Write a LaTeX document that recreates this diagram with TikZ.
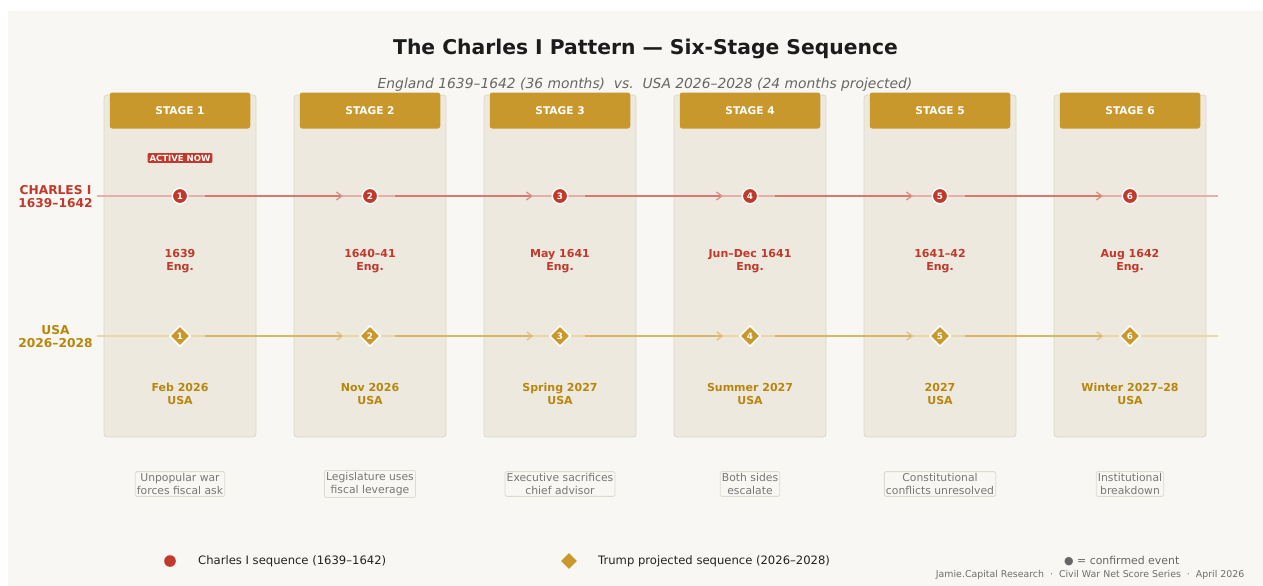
\documentclass[tikz,border=0pt]{standalone}
\usepackage{fontspec}
\setmainfont{DejaVu Sans}
\usetikzlibrary{shapes.geometric,arrows.meta}
\definecolor{pagebg}{HTML}{F8F7F3}
\definecolor{colfill}{HTML}{EDE9DF}
\definecolor{coldraw}{HTML}{DDD6C8}
\definecolor{gold}{HTML}{C8982C}
\definecolor{goldtext}{HTML}{B8860B}
\definecolor{redc}{HTML}{C0392B}
\definecolor{redlight}{HTML}{E4B0A8}
\definecolor{redseg}{HTML}{D67A70}
\definecolor{redtip}{HTML}{DD9088}
\definecolor{goldlight}{HTML}{EAD6A8}
\definecolor{goldseg}{HTML}{DAB567}
\definecolor{goldtip}{HTML}{E0C07E}
\definecolor{titlec}{HTML}{1C1C1C}
\definecolor{subc}{HTML}{666666}
\definecolor{descc}{HTML}{777777}
\definecolor{descdraw}{HTML}{DEDAD2}
\definecolor{legc}{HTML}{222222}
\definecolor{footc}{HTML}{6E6E6E}
\begin{document}
\begin{tikzpicture}[x=1pt,y=-1pt,
  colbox/.style={draw=coldraw, fill=colfill, line width=0.8pt, rounded corners=3pt},
  hdrbox/.style={fill=gold, rounded corners=2.5pt, minimum width=140.5pt, minimum height=36pt, inner sep=0pt, text=white, font=\bfseries\fontsize{10.6}{12}\selectfont},
  cnode/.style={circle, fill=redc, draw=white, line width=1.5pt, minimum size=15.5pt, inner sep=0pt, text=white, font=\bfseries\fontsize{8.8}{9}\selectfont},
  dnode/.style={diamond, aspect=1, fill=gold, draw=white, line width=1.5pt, minimum width=21pt, minimum height=21pt, inner sep=0pt, text=white, font=\bfseries\fontsize{8.8}{9}\selectfont},
  redbase/.style={draw=redlight, line width=2pt},
  goldbase/.style={draw=goldlight, line width=2pt},
  redarr/.style={draw=redseg, line width=2pt, shorten <=16.5pt, shorten >=18.5pt, -{Straight Barb[length=5.5pt,width=8pt,line width=1.3pt,color=redtip]}},
  goldarr/.style={draw=goldseg, line width=2pt, shorten <=13.3pt, shorten >=15.3pt, -{Straight Barb[length=5.5pt,width=8pt,line width=1.3pt,color=goldtip]}},
  datered/.style={text=redc, font=\bfseries\fontsize{11}{13}\selectfont, align=center},
  dategold/.style={text=goldtext, font=\bfseries\fontsize{11}{13}\selectfont, align=center},
  descbox/.style={draw=descdraw, fill=pagebg, line width=0.8pt, rounded corners=1.5pt, text=descc, font=\fontsize{10.8}{13.2}\selectfont, align=center, inner sep=1.6pt}
]
\useasboundingbox (0,0) rectangle (1263,586);
\fill[white] (0,0) rectangle (1263,586);
\fill[pagebg] (8,11) rectangle (1263,586);

% title
\node[text=titlec, font=\bfseries\fontsize{20.3}{24}\selectfont] (title) at (645.5,49) {The Charles I Pattern — Six-Stage Sequence};
\node[text=subc, font=\itshape\fontsize{13.85}{16}\selectfont] (subtitle) at (645,85) {England 1639–1642 (36 months)\ \ vs.\ \ USA 2026–2028 (24 months projected)};

% columns
\foreach \i in {1,...,6}{
  \pgfmathsetmacro{\cx}{180+190*(\i-1)}
  \draw[colbox] (\cx-76,95) rectangle (\cx+76,437);
  \node[hdrbox] (hdr\i) at (\cx,110.5) {STAGE \i};
}

% base lines
\coordinate (rl) at (97,196);
\coordinate (rr) at (1218,196);
\coordinate (gl) at (97,336);
\coordinate (gr) at (1218,336);
\draw[redbase] (rl) -- (rr);
\draw[goldbase] (gl) -- (gr);

% stage nodes and texts
\foreach \i/\cd/\ud/\ds in {
  1/{1639\\Eng.}/{Feb 2026\\USA}/{Unpopular war\\forces fiscal ask},
  2/{1640–41\\Eng.}/{Nov 2026\\USA}/{Legislature uses\\fiscal leverage},
  3/{May 1641\\Eng.}/{Spring 2027\\USA}/{Executive sacrifices\\chief advisor},
  4/{Jun–Dec 1641\\Eng.}/{Summer 2027\\USA}/{Both sides\\escalate},
  5/{1641–42\\Eng.}/{2027\\USA}/{Constitutional\\conflicts unresolved},
  6/{Aug 1642\\Eng.}/{Winter 2027–28\\USA}/{Institutional\\breakdown}}{
  \pgfmathsetmacro{\cx}{180+190*(\i-1)}
  \node[cnode] (c\i) at (\cx,196) {\i};
  \node[dnode] (d\i) at (\cx,336) {\i};
  \node[datered] (ce\i) at (\cx,261) {\cd};
  \node[dategold] (ue\i) at (\cx,393.5) {\ud};
  \node[descbox] (ds\i) at (\cx,484) {\ds};
}

% connectors
\foreach \i/\j in {1/2,2/3,3/4,4/5,5/6}{
  \draw[redarr] (c\i) -- (c\j);
  \draw[goldarr] (d\i) -- (d\j);
}

% active badge
\node[fill=redc, text=white, font=\bfseries\fontsize{8.5}{9}\selectfont, inner xsep=2pt, inner ysep=1.6pt, rounded corners=1pt] (active) at (180,158) {ACTIVE NOW};

% row labels
\node[text=redc, font=\bfseries\fontsize{12.2}{13.5}\selectfont, align=center] (lblc) at (55.5,196.5) {CHARLES I\\1639–1642};
\node[text=goldtext, font=\bfseries\fontsize{12.2}{13.5}\selectfont, align=center] (lblu) at (55.5,336.5) {USA\\2026–2028};

% legend
\node[circle, fill=redc, minimum size=11.6pt, inner sep=0pt] (legdot) at (170,561) {};
\node[anchor=west, inner sep=0pt, text=legc, font=\fontsize{11.6}{13}\selectfont] (legtxt1) at (198,561) {Charles I sequence (1639–1642)};
\node[diamond, aspect=1, fill=gold, minimum width=16pt, minimum height=16pt, inner sep=0pt] (legdia) at (569,561) {};
\node[anchor=west, inner sep=0pt, text=legc, font=\fontsize{11.6}{13}\selectfont] (legtxt2) at (598,561) {Trump projected sequence (2026–2028)};
\node[anchor=west, inner sep=0pt, text=subc, font=\fontsize{10.9}{13}\selectfont] (legconf) at (1064,561) {● = confirmed event};
\node[anchor=east, inner sep=0pt, text=footc, font=\fontsize{9.4}{11}\selectfont] (footer) at (1244.5,575) {Jamie.Capital Research\ \ ·\ \ Civil War Net Score Series\ \ ·\ \ April 2026};
\end{tikzpicture}
\end{document}
